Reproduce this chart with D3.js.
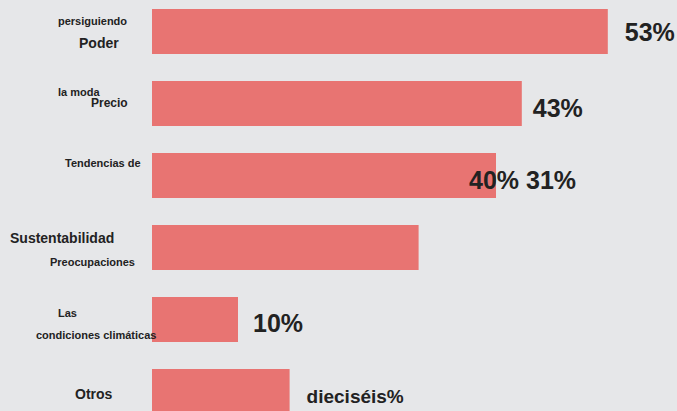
<!DOCTYPE html>
<html>
<head>
<meta charset="utf-8">
<script src="https://cdn.jsdelivr.net/npm/d3@7"></script>
<style>
  html, body { margin: 0; padding: 0; background: #e6e7e9; }
  svg { display: block; font-family: "Liberation Sans", Arial, Helvetica, sans-serif; font-weight: bold; }
</style>
</head>
<body>
<svg id="chart" width="677" height="411"></svg>
<script>
// Category names, split into the text lines shown beside each bar
const categories = ["Poder", "Precio", "Tendencias de la moda", "Preocupaciones de sustentabilidad", "Las condiciones climáticas", "Otros"];
const categoryLines = [
  ["persiguiendo", "Poder"],
  ["la moda", "Precio"],
  ["Tendencias de"],
  ["Sustentabilidad", "Preocupaciones"],
  ["Las", "condiciones climáticas"],
  ["Otros"]
];
// Share of respondents, in percent
const values = [53, 43, 40, 31, 10, 16];
// Value labels printed next to the bars
const valueLabels = ["53%", "43%", "40% 31%", "", "10%", "dieciséis%"];

// Placement of each category text line: [x, dy from band centre, font size]
const lineLayout = [
  [[58, -6.5, 11], [79, 16.5, 14]],
  [[58, -7.5, 11], [91, 3.5, 12]],
  [[65, -8.5, 11]],
  [[10, -4.5, 14], [50, 18.5, 11]],
  [[58, -2.5, 11], [36, 19.5, 11]],
  [[75, 7.5, 14]]
];
// Placement of each value label: [dx from bar end, dy from band centre, font size]
const valueLayout = [
  [17, 9.5, 25], [11, 13.5, 25], [-27, 13.5, 25], [0, 0, 25], [15, 12.5, 25], [17, 11.5, 19]
];

const svg = d3.select("#chart");

const x = d3.scaleLinear().domain([0, 60]).range([152, 668]);
const y = d3.scaleBand()
  .domain(categories)
  .range([-4.5, 427.5])
  .paddingInner(0.375)
  .paddingOuter(0.1875);

// Bars
svg.append("g")
  .selectAll("rect")
  .data(values)
  .join("rect")
  .attr("x", x(0))
  .attr("y", (d, i) => y(categories[i]))
  .attr("width", d => x(d) - x(0))
  .attr("height", y.bandwidth())
  .attr("fill", "#e87472");

// Category labels
const catG = svg.append("g").attr("fill", "#222");
categoryLines.forEach((lines, i) => {
  const cy = y(categories[i]) + y.bandwidth() / 2;
  lines.forEach((t, j) => {
    const [lx, dy, fs] = lineLayout[i][j];
    catG.append("text")
      .attr("x", lx)
      .attr("y", cy + dy)
      .attr("font-size", fs)
      .text(t);
  });
});

// Value labels
svg.append("g")
  .attr("fill", "#222")
  .selectAll("text")
  .data(values)
  .join("text")
  .attr("x", (d, i) => x(d) + valueLayout[i][0])
  .attr("y", (d, i) => y(categories[i]) + y.bandwidth() / 2 + valueLayout[i][1])
  .attr("font-size", (d, i) => valueLayout[i][2])
  .text((d, i) => valueLabels[i]);
</script>
</body>
</html>
